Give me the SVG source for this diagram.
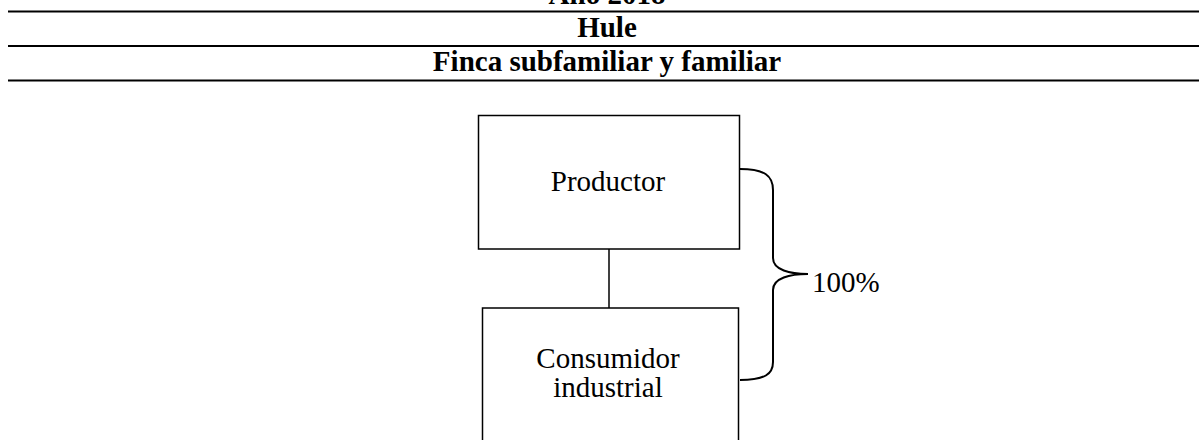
<svg xmlns="http://www.w3.org/2000/svg" width="1199" height="440" viewBox="0 0 1199 440">
<style>
.hd{font-family:"Liberation Serif","Times New Roman",serif;font-weight:bold;font-size:29px;fill:#000;text-anchor:middle}
.tx{font-family:"Liberation Serif","Times New Roman",serif;font-size:29px;fill:#000;text-anchor:middle}
.rule{stroke:#000;stroke-width:2}
.box{fill:#fff;stroke:#000;stroke-width:1.5}
.ln{stroke:#000;stroke-width:1.5;fill:none}
.br{stroke:#000;stroke-width:2;fill:none}
</style>
<rect width="1199" height="440" fill="#fff"/>
<g id="header">
<text class="hd" x="607" y="4">Año 2018</text>
<line class="rule" x1="8" y1="11.5" x2="1199" y2="11.5"/>
<text class="hd" x="607" y="37">Hule</text>
<line class="rule" x1="8" y1="46" x2="1199" y2="46"/>
<text class="hd" x="607" y="71">Finca subfamiliar y familiar</text>
<line class="rule" x1="8" y1="80.5" x2="1199" y2="80.5"/>
</g>
<g id="connectors">
<line class="ln" x1="609" y1="249" x2="609" y2="308"/>
<path class="br" d="M740,169 C765,169 773,176 773,190 L773,258 C773,270 790,274 808,274 C790,274 773,278 773,290 L773,362 C773,374 765,380 740,380"/>
</g>
<g id="productor">
<rect class="box" x="478.5" y="115.5" width="261" height="133.5"/>
<text class="tx" x="608" y="191">Productor</text>
</g>
<g id="consumidor">
<rect class="box" x="482.5" y="308" width="256" height="140"/>
<text class="tx" x="608" y="368">Consumidor</text>
<text class="tx" x="608" y="397">industrial</text>
</g>
<g id="pct">
<text class="tx" x="812" y="292" style="text-anchor:start">100%</text>
</g>
</svg>
